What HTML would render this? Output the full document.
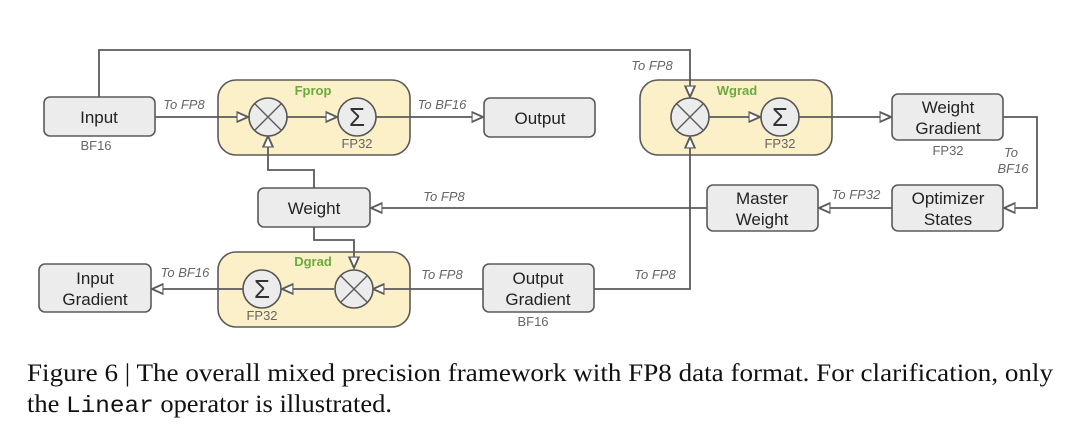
<!DOCTYPE html>
<html><head><meta charset="utf-8"><style>
html,body{margin:0;padding:0;background:#fff;}
svg{display:block;}
.b{fill:#ececec;stroke:#5a5a5a;stroke-width:1.6;}
.g{fill:#fbf0c8;stroke:#5a5a5a;stroke-width:1.6;}
.c{fill:#ececec;stroke:#555;stroke-width:1.6;}
.l{fill:none;stroke:#5a5a5a;stroke-width:1.8;}
.t{font-family:"Liberation Sans",sans-serif;font-size:17px;fill:#222;text-anchor:middle;}
.s{font-family:"Liberation Sans",sans-serif;font-size:13px;fill:#666;text-anchor:middle;}
.i{font-family:"Liberation Sans",sans-serif;font-size:13px;fill:#666;font-style:italic;text-anchor:middle;}
.h{font-family:"Liberation Sans",sans-serif;font-size:13px;fill:#6aab3e;font-weight:bold;text-anchor:middle;}
.cap{font-family:"Liberation Serif",serif;font-size:25px;fill:#111;}
</style></head><body>
<svg width="1080" height="436" viewBox="0 0 1080 436" xmlns="http://www.w3.org/2000/svg">
<defs><marker id="a" viewBox="0 0 10 10" refX="9" refY="5" markerWidth="7" markerHeight="7" orient="auto"><path d="M0,1 L9,5 L0,9 z" fill="#fff" stroke="#5a5a5a" stroke-width="1.5"/></marker></defs>
<rect class="g" x="218" y="80" width="192" height="75" rx="18"/>
<rect class="g" x="640" y="80" width="192" height="75" rx="18"/>
<rect class="g" x="218" y="252" width="192" height="75" rx="18"/>
<text class="h" x="313" y="95">Fprop</text>
<text class="h" x="737" y="95">Wgrad</text>
<text class="h" x="313" y="266">Dgrad</text>
<path class="l" d="M99,97 V50 H690 V97" marker-end="url(#a)"/>
<path class="l" d="M155,117 H248" marker-end="url(#a)"/>
<path class="l" d="M287,117 H337" marker-end="url(#a)"/>
<path class="l" d="M376,117 H483" marker-end="url(#a)"/>
<path class="l" d="M709,117 H760" marker-end="url(#a)"/>
<path class="l" d="M799,117 H891" marker-end="url(#a)"/>
<path class="l" d="M1003,117 H1037 V208 H1004" marker-end="url(#a)"/>
<path class="l" d="M892,208 H819" marker-end="url(#a)"/>
<path class="l" d="M707,208 H371" marker-end="url(#a)"/>
<path class="l" d="M314,188 V170 H268 V136" marker-end="url(#a)"/>
<path class="l" d="M314,227 V240 H354 V268" marker-end="url(#a)"/>
<path class="l" d="M483,289 H373" marker-end="url(#a)"/>
<path class="l" d="M334,289 H282" marker-end="url(#a)"/>
<path class="l" d="M243,289 H152" marker-end="url(#a)"/>
<path class="l" d="M594,289 H690 V137" marker-end="url(#a)"/>
<g><circle class="c" cx="268" cy="117" r="19"/><path class="l" d="M254.5,103.5 L281.5,130.5 M281.5,103.5 L254.5,130.5" style="stroke-width:1.4"/></g>
<g><circle class="c" cx="690" cy="117" r="19"/><path class="l" d="M676.5,103.5 L703.5,130.5 M703.5,103.5 L676.5,130.5" style="stroke-width:1.4"/></g>
<g><circle class="c" cx="354" cy="289" r="19"/><path class="l" d="M340.5,275.5 L367.5,302.5 M367.5,275.5 L340.5,302.5" style="stroke-width:1.4"/></g>
<circle class="c" cx="357" cy="117" r="19"/><text class="t" x="357" y="126" style="font-size:26px;fill:#333">Σ</text>
<circle class="c" cx="780" cy="117" r="19"/><text class="t" x="780" y="126" style="font-size:26px;fill:#333">Σ</text>
<circle class="c" cx="262" cy="289" r="19"/><text class="t" x="262" y="298" style="font-size:26px;fill:#333">Σ</text>
<text class="s" x="357" y="148">FP32</text>
<text class="s" x="780" y="148">FP32</text>
<text class="s" x="262" y="320">FP32</text>
<rect class="b" x="44" y="97" width="111" height="39" rx="6"/><text class="t" x="99" y="123">Input</text>
<text class="s" x="96" y="150">BF16</text>
<rect class="b" x="484" y="98" width="111" height="39" rx="6"/><text class="t" x="540" y="124">Output</text>
<rect class="b" x="892" y="94" width="111" height="46" rx="6"/><text class="t" x="948" y="113">Weight</text><text class="t" x="948" y="134">Gradient</text>
<text class="s" x="948" y="155">FP32</text>
<rect class="b" x="892" y="185" width="111" height="46" rx="6"/><text class="t" x="948" y="204">Optimizer</text><text class="t" x="948" y="225">States</text>
<rect class="b" x="707" y="185" width="111" height="46" rx="6"/><text class="t" x="762" y="204">Master</text><text class="t" x="762" y="225">Weight</text>
<rect class="b" x="258" y="188" width="112" height="39" rx="6"/><text class="t" x="314" y="214">Weight</text>
<rect class="b" x="39" y="264" width="112" height="48" rx="6"/><text class="t" x="95" y="284">Input</text><text class="t" x="95" y="305">Gradient</text>
<rect class="b" x="483" y="264" width="111" height="48" rx="6"/><text class="t" x="538" y="284">Output</text><text class="t" x="538" y="305">Gradient</text>
<text class="s" x="533" y="326">BF16</text>
<text class="i" x="184" y="109">To FP8</text>
<text class="i" x="442" y="109">To BF16</text>
<text class="i" x="652" y="70">To FP8</text>
<text class="i" x="1011" y="157">To</text>
<text class="i" x="1013" y="173">BF16</text>
<text class="i" x="856" y="199">To FP32</text>
<text class="i" x="444" y="201">To FP8</text>
<text class="i" x="185" y="277">To BF16</text>
<text class="i" x="442" y="279">To FP8</text>
<text class="i" x="655" y="279">To FP8</text>
<text class="cap" x="27" y="381" textLength="1026" lengthAdjust="spacingAndGlyphs">Figure 6 | The overall mixed precision framework with FP8 data format. For clarification, only</text>
<text class="cap" x="27" y="412" textLength="365" lengthAdjust="spacingAndGlyphs">the <tspan style="font-family:'Liberation Mono',monospace;font-size:23px">Linear</tspan> operator is illustrated.</text>
</svg>
</body></html>
